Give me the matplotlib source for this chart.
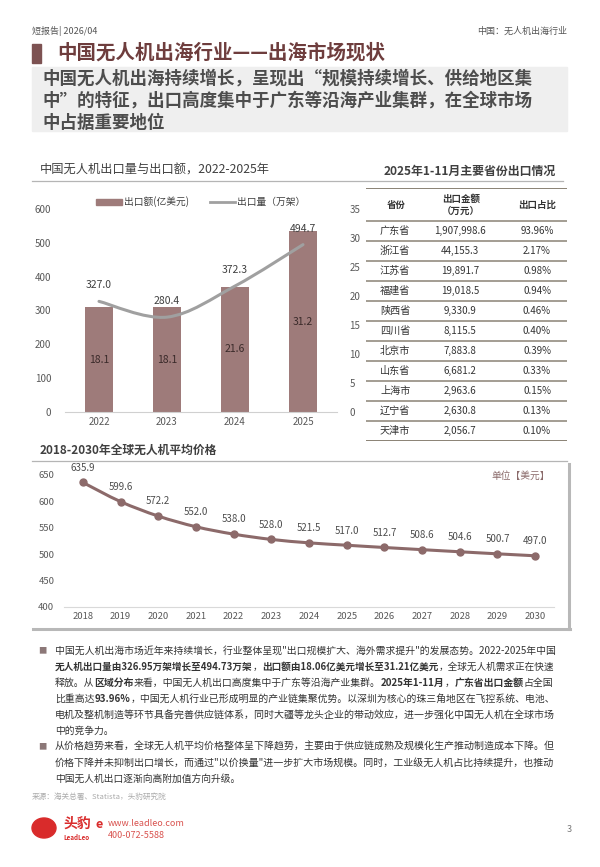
import matplotlib
matplotlib.use("Agg")
import matplotlib.pyplot as plt
from matplotlib.path import Path
from matplotlib.patches import PathPatch, Rectangle, Ellipse
from matplotlib.lines import Line2D
import numpy as np

plt.rcParams['font.family'] = ['Noto Sans CJK SC', 'DejaVu Sans']

# ---- data ----
bar_years = ['2022', '2023', '2024', '2025']
export_value = [18.1, 18.1, 21.6, 31.2]        # 柱（右轴）
export_volume = [327.0, 280.4, 372.3, 494.7]   # 折线（左轴）

price_years = ['2018', '2019', '2020', '2021', '2022', '2023', '2024',
               '2025', '2026', '2027', '2028', '2029', '2030']
avg_price = [635.9, 599.6, 572.2, 552.0, 538.0, 528.0, 521.5,
             517.0, 512.7, 508.6, 504.6, 500.7, 497.0]

provinces = ['广东省', '浙江省', '江苏省', '福建省', '陕西省', '四川省',
             '北京市', '山东省', '上海市', '辽宁省', '天津市']
export_amount = [1907998.6, 44155.3, 19891.7, 19018.5, 9330.9, 8115.5,
                 7883.8, 6681.2, 2963.6, 2630.8, 2056.7]
export_share = [93.96, 2.17, 0.98, 0.94, 0.46, 0.40, 0.39, 0.33, 0.15, 0.13, 0.10]

W, H = 600, 867
BAR_C = '#9e7b7a'
LINE_C = '#a0a0a0'
PRICE_C = '#8c6a6a'
TXT = '#333333'
TICK = '#595959'

fig = plt.figure(figsize=(W / 100, H / 100), dpi=100)


def fx(x):
    return x / W


def fy(y):
    return 1 - y / H


def smooth_path(xs, ys):
    # catmull-rom style bezier through the data points
    xs = np.asarray(xs, float)
    ys = np.asarray(ys, float)
    n = len(xs)
    verts = [(xs[0], ys[0])]
    codes = [Path.MOVETO]
    for i in range(n - 1):
        a = i - 1 if i > 0 else i
        d = i + 2 if i + 2 < n else i + 1
        c1 = (xs[i] + (xs[i + 1] - xs[a]) / 6, ys[i] + (ys[i + 1] - ys[a]) / 6)
        c2 = (xs[i + 1] - (xs[d] - xs[i]) / 6, ys[i + 1] - (ys[d] - ys[i]) / 6)
        verts += [c1, c2, (xs[i + 1], ys[i + 1])]
        codes += [Path.CURVE4] * 3
    return Path(verts, codes)


# ---- header ----
fig.text(fx(32), fy(31), '短报告| 2026/04', fontsize=6.5, color='#555555', va='center')
fig.text(fx(567), fy(31), '中国：无人机出海行业', fontsize=6.5, color='#555555', va='center', ha='right')
fig.patches.append(Rectangle((fx(32), fy(63)), fx(9), 19 / H, transform=fig.transFigure,
                             color='#7d5252', zorder=1))
fig.text(fx(57), fy(53), '中国无人机出海行业——出海市场现状', fontsize=14, color='#6e3d3d',
         va='center', fontweight='bold')
fig.patches.append(Rectangle((fx(32), fy(131)), fx(535), 64 / H, transform=fig.transFigure,
                             color='#efefef', zorder=0))
sub_lines = ['中国无人机出海持续增长，呈现出“规模持续增长、供给地区集',
             '中”的特征，出口高度集中于广东等沿海产业集群，在全球市场',
             '中占据重要地位']
for i, s in enumerate(sub_lines):
    fig.text(fx(42), fy(79 + 22 * i), s, fontsize=12.6, color='#4d4d4d', va='center',
             fontweight='bold')

# ---- section titles ----
fig.text(fx(40), fy(170), '中国无人机出口量与出口额，2022-2025年', fontsize=8.8, color='#404040', va='center')
fig.text(fx(470), fy(171), '2025年1-11月主要省份出口情况', fontsize=8.6, color='#404040',
         va='center', ha='center', fontweight='bold')
fig.lines.append(Line2D([fx(32), fx(563)], [fy(181), fy(181)], transform=fig.transFigure,
                        color='#b5b5b5', lw=0.9))

# ---- bar + line chart ----
ax = fig.add_axes([fx(65), fy(412), 272 / W, 203 / H])
ax2 = ax.twinx()
xpos = np.arange(len(bar_years))
bars = ax2.bar(xpos, export_value, width=0.41, color=BAR_C, label='出口额(亿美元)')
for b, v in zip(bars, export_value):
    ax2.text(b.get_x() + b.get_width() / 2, v / 2, f'{v:.1f}', ha='center', va='center',
             fontsize=7.5, color='#3a2a2a')
ax2.set_ylim(0, 35)
ax2.set_yticks(np.arange(0, 36, 5))

ax.add_patch(PathPatch(smooth_path(xpos, export_volume), fill=False, edgecolor=LINE_C, lw=2.2,
                       capstyle='round'))
for x, v in zip(xpos, export_volume):
    ax.annotate(f'{v:.1f}', (x, v), xytext=(0, 8), textcoords='offset points', ha='center',
                va='bottom', fontsize=7.5, color='#404040')
ax.set_ylim(0, 600)
ax.set_yticks(np.arange(0, 601, 100))
ax.set_xlim(-0.5, 3.5)
ax.set_xticks(xpos)
ax.set_xticklabels(bar_years)
ax.set_zorder(ax2.get_zorder() + 1)
ax.patch.set_visible(False)

for a in (ax, ax2):
    for sp in a.spines.values():
        sp.set_visible(False)
    a.tick_params(length=0, labelsize=7, labelcolor=TICK)
ax.spines['bottom'].set_visible(True)
ax.spines['bottom'].set_color('#d0d0d0')
ax.tick_params(axis='y', pad=10)
ax2.tick_params(axis='y', pad=9)

handles = [Rectangle((0, 0), 1, 1, color=BAR_C), Line2D([0], [0], color=LINE_C, lw=2)]
ax.legend(handles, ['出口额(亿美元)', '出口量（万架）'], loc='center', bbox_to_anchor=(0.5, 1.035),
          ncol=2, frameon=False, fontsize=7, handlelength=2.6, handleheight=0.6,
          columnspacing=2.2, handletextpad=0.2, labelcolor='#404040')

# ---- table ----
tab = fig.add_axes([fx(366), fy(441), 201 / W, 253 / H])
tab.set_xlim(0, 201)
tab.set_ylim(253, 0)
tab.axis('off')
rule = '#8a8275'
header_h = 33
row_h = 20
tab.axhline(0, color=rule, lw=1.4)
tab.axhline(header_h, color=rule, lw=1.1)
tab.text(30, header_h / 2, '省份', ha='center', va='center', fontsize=6.8, fontweight='bold', color=TXT)
tab.text(95, header_h / 2, '出口金额\n（万元）', ha='center', va='center', fontsize=6.8,
         fontweight='bold', color=TXT, linespacing=1.25)
tab.text(171, header_h / 2, '出口占比', ha='center', va='center', fontsize=6.8, fontweight='bold', color=TXT)
for i, (p, amt, sh) in enumerate(zip(provinces, export_amount, export_share)):
    yc = header_h + row_h * (i + 0.5)
    tab.text(14, yc, p, ha='left', va='center', fontsize=7.3, color=TXT)
    tab.text(94, yc, f'{amt:,.1f}', ha='center', va='center', fontsize=7, color=TXT)
    tab.text(171, yc, f'{sh:.2f}%', ha='center', va='center', fontsize=7, color=TXT)
    tab.axhline(header_h + row_h * (i + 1), color=rule, lw=1.1 if i < len(provinces) - 1 else 1.4)

# ---- price chart ----
fig.text(fx(40), fy(450), '2018-2030年全球无人机平均价格', fontsize=8.5, color='#404040',
         va='center', fontweight='bold')
fig.lines.append(Line2D([fx(32), fx(567)], [fy(461), fy(461)], transform=fig.transFigure,
                        color='#b5b5b5', lw=0.9))
# shadowed frame
fig.lines.append(Line2D([fx(568.5), fx(568.5)], [fy(464), fy(629)], transform=fig.transFigure,
                        color='#b8b8b8', lw=2.2))
fig.lines.append(Line2D([fx(33), fx(569.5)], [fy(628.5), fy(628.5)], transform=fig.transFigure,
                        color='#b8b8b8', lw=2.2))

pax = fig.add_axes([fx(64), fy(607), 490 / W, 132 / H])
px = np.arange(len(price_years))
pax.add_patch(PathPatch(smooth_path(px, avg_price), fill=False, edgecolor=PRICE_C, lw=2.2))
pax.plot(px, avg_price, ls='none', marker='o', ms=5, color=PRICE_C)
for x, v in zip(px, avg_price):
    pax.annotate(f'{v:.1f}', (x, v), xytext=(0, 7), textcoords='offset points', ha='center',
                 va='bottom', fontsize=7, color='#4d4d4d')
pax.set_xlim(-0.5, len(price_years) - 0.5)
pax.set_ylim(400, 650)
pax.set_yticks(np.arange(400, 651, 50))
pax.set_xticks(px)
pax.set_xticklabels(price_years)
for sp in pax.spines.values():
    sp.set_visible(False)
pax.spines['bottom'].set_visible(True)
pax.spines['bottom'].set_color('#d9d9d9')
pax.tick_params(length=0, labelsize=6.8, labelcolor=TICK)
pax.tick_params(axis='y', pad=7)
pax.patch.set_visible(False)
fig.text(fx(550), fy(476), '单位【美元】', fontsize=7, color='#8a6a6a', ha='right', va='center')

# ---- body text: each full line scaled to the text width ----
fig.canvas.draw()
renderer = fig.canvas.get_renderer()
BODY_SIZE = 7.0


def rich_line(x, y, segments, right=None):
    texts = [fig.text(0, fy(y), s, fontsize=BODY_SIZE, color=TXT, va='center',
                      fontweight='bold' if bold else 'normal') for s, bold in segments]
    if right is not None:
        natural = sum(t.get_window_extent(renderer).width for t in texts)
        scale = min(max((right - x) / natural, 0.93), 1.07)
        for t in texts:
            t.set_fontsize(BODY_SIZE * scale)
    for t in texts:
        t.set_x(fx(x))
        x += t.get_window_extent(renderer).width


para1 = [
    [('中国无人机出海市场近年来持续增长，行业整体呈现"出口规模扩大、海外需求提升"的发展态势。2022-2025年中国', False)],
    [('无人机出口量由326.95万架增长至494.73万架', True), ('，', False),
     ('出口额由18.06亿美元增长至31.21亿美元', True), ('，全球无人机需求正在快速', False)],
    [('释放。从', False), ('区域分布', True), ('来看，中国无人机出口高度集中于广东等沿海产业集群。', False),
     ('2025年1-11月', True), ('，', False), ('广东省出口金额', True), ('占全国', False)],
    [('比重高达', False), ('93.96%', True), ('，中国无人机行业已形成明显的产业链集聚优势。以深圳为核心的珠三角地区在飞控系统、电池、', False)],
    [('电机及整机制造等环节具备完善供应链体系，同时大疆等龙头企业的带动效应，进一步强化中国无人机在全球市场', False)],
    [('中的竞争力。', False)],
]
para2 = [
    [('从价格趋势来看，全球无人机平均价格整体呈下降趋势，主要由于供应链成熟及规模化生产推动制造成本下降。但', False)],
    [('价格下降并未抑制出口增长，而通过"以价换量"进一步扩大市场规模。同时，工业级无人机占比持续提升，也推动', False)],
    [('中国无人机出口逐渐向高附加值方向升级。', False)],
]
y = 651
for para in (para1, para2):
    fig.text(fx(38), fy(y), '■', fontsize=6, color='#8c7878', va='center')
    for k, segs in enumerate(para):
        rich_line(55, y, segs, right=None if k == len(para) - 1 else 555)
        y += 16

fig.text(fx(32), fy(797), '来源：海关总署、Statista，头豹研究院', fontsize=5.5, color='#aaaaaa', va='center')

# ---- footer ----
fig.patches.append(Ellipse((fx(44), fy(828)), 24 / W, 20 / H, transform=fig.transFigure,
                           color='#d92b2b'))
fig.text(fx(63), fy(824), '头豹', fontsize=10, color='#d92b2b', va='center', fontweight='bold')
fig.text(fx(63), fy(837), 'LeadLeo', fontsize=4.5, color='#d92b2b', va='center', fontweight='bold')
fig.text(fx(96), fy(824), 'e', fontsize=9, color='#d92b2b', va='center', fontweight='bold', style='italic')
fig.text(fx(108), fy(823), 'www.leadleo.com', fontsize=6.5, color='#d9534f', va='center')
fig.text(fx(108), fy(836), '400-072-5588', fontsize=6.5, color='#d9534f', va='center')
fig.text(fx(572), fy(829), '3', fontsize=6.5, color='#777777', va='center', ha='right')

fig.savefig('out.png', dpi=100)
